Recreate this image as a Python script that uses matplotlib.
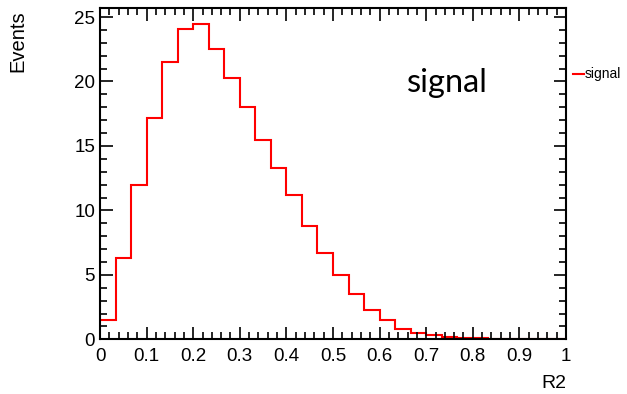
import matplotlib
matplotlib.use("Agg")
import matplotlib.pyplot as plt
from matplotlib.ticker import MultipleLocator
import numpy as np

# R2 histogram, 30 bins over [0, 1]
counts = [1.5, 6.3, 12.0, 17.2, 21.5, 24.05, 24.45, 22.5, 20.3, 18.0,
          15.45, 13.25, 11.2, 8.8, 6.7, 5.0, 3.55, 2.3, 1.5, 0.8,
          0.46, 0.32, 0.2, 0.13, 0.1, 0.0, 0.0, 0.0, 0.0, 0.0]
x_range = (0.0, 1.0)
series_name = "signal"
x_title = "R2"
y_title = "Events"

plt.rcParams["font.family"] = ["Liberation Sans", "DejaVu Sans"]

fig = plt.figure(figsize=(6.27, 3.94), dpi=100)
ax = fig.add_axes([0.1595, 0.1388, 0.9027 - 0.1595, 0.9797 - 0.1388])

edges = np.linspace(x_range[0], x_range[1], len(counts) + 1)
ax.stairs(counts, edges, baseline=None, color="#ff0000", linewidth=1.5)

ax.set_xlim(*x_range)
ax.set_ylim(0, 25.7)

ax.xaxis.set_major_locator(MultipleLocator(0.1))
ax.xaxis.set_minor_locator(MultipleLocator(0.02))
ax.yaxis.set_major_locator(MultipleLocator(5))
ax.yaxis.set_minor_locator(MultipleLocator(1))
ax.xaxis.set_major_formatter(plt.FuncFormatter(lambda v, p: f"{v:g}"))

ax.tick_params(which="both", direction="in", top=True, right=True,
               labelsize=13.5, width=1.2, colors="black")
ax.tick_params(which="major", length=9)
ax.tick_params(which="minor", length=5)
ax.tick_params(axis="x", pad=6)
for s in ax.spines.values():
    s.set_linewidth(1.5)

fig.text(18 / 627, 1 - 10 / 394, y_title, rotation=90, ha="center", va="top",
         fontsize=14.5)
fig.text(566 / 627, 1 - 383 / 394, x_title, ha="right", va="center",
         fontsize=14)

# big label inside the frame
ax.text(0.745, 19.9, series_name, ha="center", va="center",
        fontsize=23.5, family=["Lato", "DejaVu Sans"])

# legend entry outside the frame
fig.add_artist(plt.Line2D([573 / 627, 584 / 627], [1 - 74 / 394] * 2,
                          color="#ff0000", linewidth=1.5))
fig.text(585 / 627, 1 - 74 / 394, series_name, ha="left", va="center",
         fontsize=10)

fig.savefig("out.png", dpi=100)
